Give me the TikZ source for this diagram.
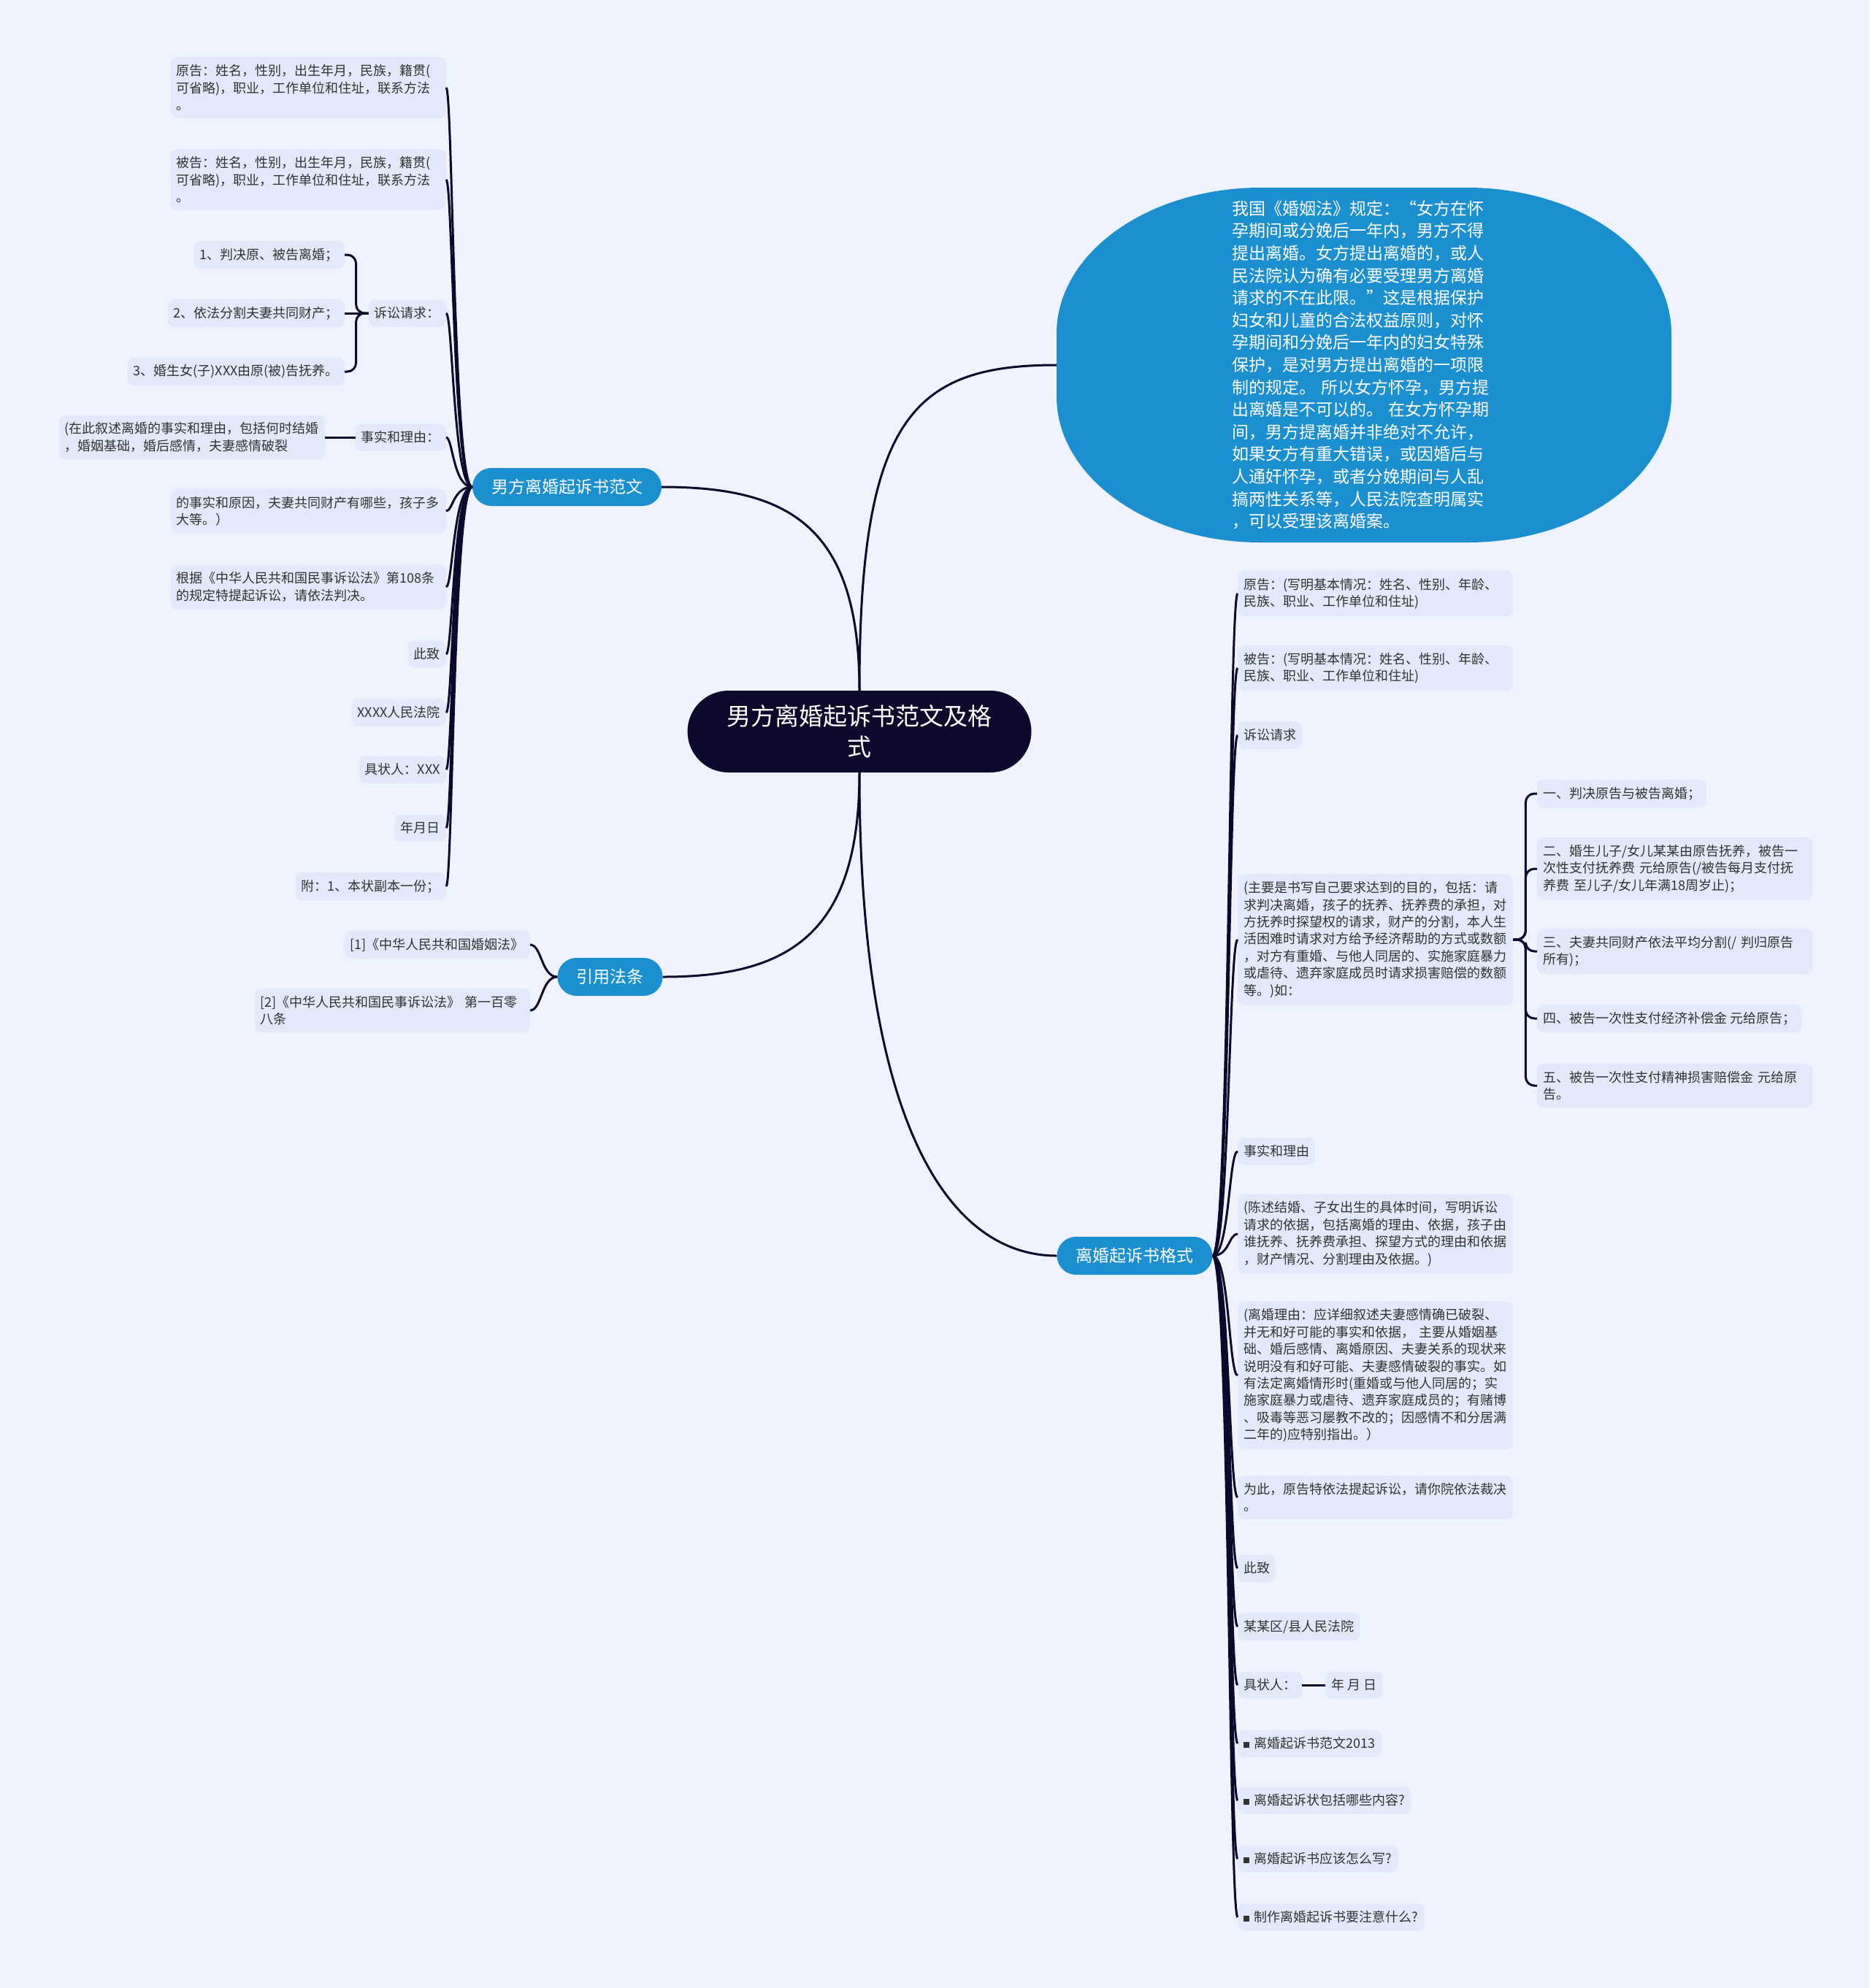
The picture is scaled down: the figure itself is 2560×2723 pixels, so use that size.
\documentclass[tikz,border=0pt]{standalone}
\usepackage{fontspec}
\newfontfamily\cjk{Noto Sans CJK SC}
\definecolor{bgc}{HTML}{EEF3FE}
\definecolor{leafc}{HTML}{E1E9FA}
\definecolor{bluec}{HTML}{1B8FD0}
\definecolor{navyc}{HTML}{0C092D}
\definecolor{txtc}{HTML}{333333}
\newcommand\sqbul{{\color{txtc}\rule[0.05em]{0.42em}{0.42em}}\hspace{0.4em}}
\begin{document}
\begin{tikzpicture}[x=1pt,y=-1pt,
  leaf/.style={fill=leafc, rounded corners=9, inner xsep=8, inner ysep=10, minimum height=37, text=txtc, font={\cjk\fontsize{18}{23.4}\selectfont}, align=left},
  wleaf/.style={leaf, text width=361},
  branch/.style={fill=bluec, text=white, rounded corners=26, minimum height=52, inner xsep=26, inner ysep=8, font={\cjk\fontsize{23}{28}\selectfont}},
  link/.style={draw=navyc, line width=3}]
\fill[bgc] (0,0) rectangle (2560,2723);
\useasboundingbox (0,0) rectangle (2560,2723);

% root and main branches
\node[fill=navyc, text=white, rounded corners=56, minimum width=471, minimum height=112, align=center, font={\cjk\fontsize{33}{42}\selectfont}] (root) at (1177,1002) {男方离婚起诉书范文及格\\式};
\node[branch] (b1) at (776.5,667) {男方离婚起诉书范文};
\node[branch] (b2) at (835.5,1338) {引用法条};
\node[branch] (b3) at (1554,1720) {离婚起诉书格式};

% big rounded (squircle-like) topic shape
\fill[bluec] (1727,257) -- (2009,257)
  arc[start angle=90, end angle=0, x radius=280pt, y radius=200pt]
  -- (2289,543)
  arc[start angle=0, end angle=-90, x radius=280pt, y radius=200pt]
  -- (1727,743)
  arc[start angle=270, end angle=180, x radius=280pt, y radius=200pt]
  -- (1447,457)
  arc[start angle=180, end angle=90, x radius=280pt, y radius=200pt]
  -- cycle;
\coordinate (bigw) at (1447,500);
\node[text width=362, align=left, text=white, font={\cjk\fontsize{23}{30.6}\selectfont}] (big) at (1868,500) {我国《婚姻法》规定：“女方在怀\\孕期间或分娩后一年内，男方不得\\提出离婚。女方提出离婚的，或人\\民法院认为确有必要受理男方离婚\\请求的不在此限。”这是根据保护\\妇女和儿童的合法权益原则，对怀\\孕期间和分娩后一年内的妇女特殊\\保护，是对男方提出离婚的一项限\\制的规定。~所以女方怀孕，男方提\\出离婚是不可以的。~在女方怀孕期\\间，男方提离婚并非绝对不允许，\\如果女方有重大错误，或因婚后与\\人通奸怀孕，或者分娩期间与人乱\\搞两性关系等，人民法院查明属实\\，可以受理该离婚案。};

\draw[link] (root.north) .. controls (1177,573) and (1250,500) .. (bigw);
\draw[link] (root.north) .. controls (1177,720) and (1080,667) .. (b1.east);
\draw[link] (root.south) .. controls (1177,1280) and (1080,1338) .. (b2.east);
\draw[link] (root.south) .. controls (1177,1546) and (1302,1720) .. (b3.west);

% left branch children
\node[wleaf, anchor=east] (l1) at (611,120) {原告：姓名，性别，出生年月，民族，籍贯(\\可省略)，职业，工作单位和住址，联系方法\\。};
\node[wleaf, anchor=east] (l2) at (611,246) {被告：姓名，性别，出生年月，民族，籍贯(\\可省略)，职业，工作单位和住址，联系方法\\。};
\node[leaf, anchor=east] (lreq) at (611,429) {诉讼请求：};
\node[leaf, anchor=east] (ls1) at (472,349) {1、判决原、被告离婚；};
\node[leaf, anchor=east] (ls2) at (472,429) {2、依法分割夫妻共同财产；};
\node[leaf, anchor=east] (ls3) at (472,509) {3、婚生女(子)XXX由原(被)告抚养。};
\node[leaf, anchor=east] (lfact) at (611,599) {事实和理由：};
\node[leaf, anchor=east] (lfc) at (445,599) {(在此叙述离婚的事实和理由，包括何时结婚\\，婚姻基础，婚后感情，夫妻感情破裂};
\node[wleaf, anchor=east] (l3) at (611,700) {的事实和原因，夫妻共同财产有哪些，孩子多\\大等。）};
\node[wleaf, anchor=east] (l4) at (611,804) {根据《中华人民共和国民事诉讼法》第108条\\的规定特提起诉讼，请依法判决。};
\node[leaf, anchor=east] (l5) at (611,896) {此致};
\node[leaf, anchor=east] (l6) at (611,976) {XXXX人民法院};
\node[leaf, anchor=east] (l7) at (611,1054) {具状人：XXX};
\node[leaf, anchor=east] (l8) at (611,1134) {年月日};
\node[leaf, anchor=east] (l9) at (611,1214) {附：1、本状副本一份；};

\foreach \n in {l1,l2,lreq,lfact,l3,l4,l5,l6,l7,l8,l9}
  \draw[link] (b1.west) .. controls +(-26,0) and +(9,0) .. (\n.east);
\foreach \n in {ls1,ls3}
  \draw[link, rounded corners=12] (lreq.west) -- ++(-17,0) |- (\n.east);
\draw[link] (lreq.west) -- (ls2.east);
\draw[link] (lfact.west) -- (lfc.east);

% citation children
\node[leaf, anchor=east] (c1) at (726,1294) {[1]《中华人民共和国婚姻法》};
\node[wleaf, anchor=east] (c2) at (726,1384) {[2]《中华人民共和国民事诉讼法》~第一百零\\八条};
\foreach \n in {c1,c2}
  \draw[link] (b2.west) .. controls +(-22,0) and +(16,0) .. (\n.east);

% right branch children
\node[wleaf, anchor=west] (r1) at (1695,813) {原告：(写明基本情况：姓名、性别、年龄、\\民族、职业、工作单位和住址)};
\node[wleaf, anchor=west] (r2) at (1695,915) {被告：(写明基本情况：姓名、性别、年龄、\\民族、职业、工作单位和住址)};
\node[leaf, anchor=west] (r3) at (1695,1007) {诉讼请求};
\node[wleaf, anchor=west] (r4) at (1695,1287) {(主要是书写自己要求达到的目的，包括：请\\求判决离婚，孩子的抚养、抚养费的承担，对\\方抚养时探望权的请求，财产的分割，本人生\\活困难时请求对方给予经济帮助的方式或数额\\，对方有重婚、与他人同居的、实施家庭暴力\\或虐待、遗弃家庭成员时请求损害赔偿的数额\\等。)如：};
\node[leaf, anchor=west] (s1) at (2105,1087) {一、判决原告与被告离婚；};
\node[wleaf, anchor=west] (s2) at (2105,1190) {二、婚生儿子/女儿某某由原告抚养，被告一\\次性支付抚养费~元给原告(/被告每月支付抚\\养费~至儿子/女儿年满18周岁止)；};
\node[wleaf, anchor=west] (s3) at (2105,1303) {三、夫妻共同财产依法平均分割(/~判归原告\\所有)；};
\node[leaf, anchor=west] (s4) at (2105,1395) {四、被告一次性支付经济补偿金~元给原告；};
\node[wleaf, anchor=west] (s5) at (2105,1487) {五、被告一次性支付精神损害赔偿金~元给原\\告。};
\node[leaf, anchor=west] (r5) at (1695,1577) {事实和理由};
\node[wleaf, anchor=west] (r6) at (1695,1690) {(陈述结婚、子女出生的具体时间，写明诉讼\\请求的依据，包括离婚的理由、依据，孩子由\\谁抚养、抚养费承担、探望方式的理由和依据\\，财产情况、分割理由及依据。)};
\node[wleaf, anchor=west] (r7) at (1695,1884) {(离婚理由：应详细叙述夫妻感情确已破裂、\\并无和好可能的事实和依据，~主要从婚姻基\\础、婚后感情、离婚原因、夫妻关系的现状来\\说明没有和好可能、夫妻感情破裂的事实。如\\有法定离婚情形时(重婚或与他人同居的；实\\施家庭暴力或虐待、遗弃家庭成员的；有赌博\\、吸毒等恶习屡教不改的；因感情不和分居满\\二年的)应特别指出。）};
\node[wleaf, anchor=west] (r8) at (1695,2051) {为此，原告特依法提起诉讼，请你院依法裁决\\。};
\node[leaf, anchor=west] (r9) at (1695,2148) {此致};
\node[leaf, anchor=west] (r10) at (1695,2228) {某某区/县人民法院};
\node[leaf, anchor=west] (r11) at (1695,2308) {具状人：};
\node[leaf, anchor=west] (r11b) at (1815,2308) {年~月~日};
\node[leaf, anchor=west] (r12) at (1695,2388) {\sqbul 离婚起诉书范文2013};
\node[leaf, anchor=west] (r13) at (1695,2466) {\sqbul 离婚起诉状包括哪些内容?};
\node[leaf, anchor=west] (r14) at (1695,2546) {\sqbul 离婚起诉书应该怎么写?};
\node[leaf, anchor=west] (r15) at (1695,2626) {\sqbul 制作离婚起诉书要注意什么?};

\foreach \n in {r1,r2,r3,r4,r5,r6,r7,r8,r9,r10,r11,r12,r13,r14,r15}
  \draw[link] (b3.east) .. controls +(23,0) and +(-12,0) .. (\n.west);
\foreach \n in {s1,s2,s3,s4,s5}
  \draw[link, rounded corners=12] (r4.east) -- ++(17,0) |- (\n.west);
\draw[link] (r11.east) -- (r11b.west);
\end{tikzpicture}
\end{document}
